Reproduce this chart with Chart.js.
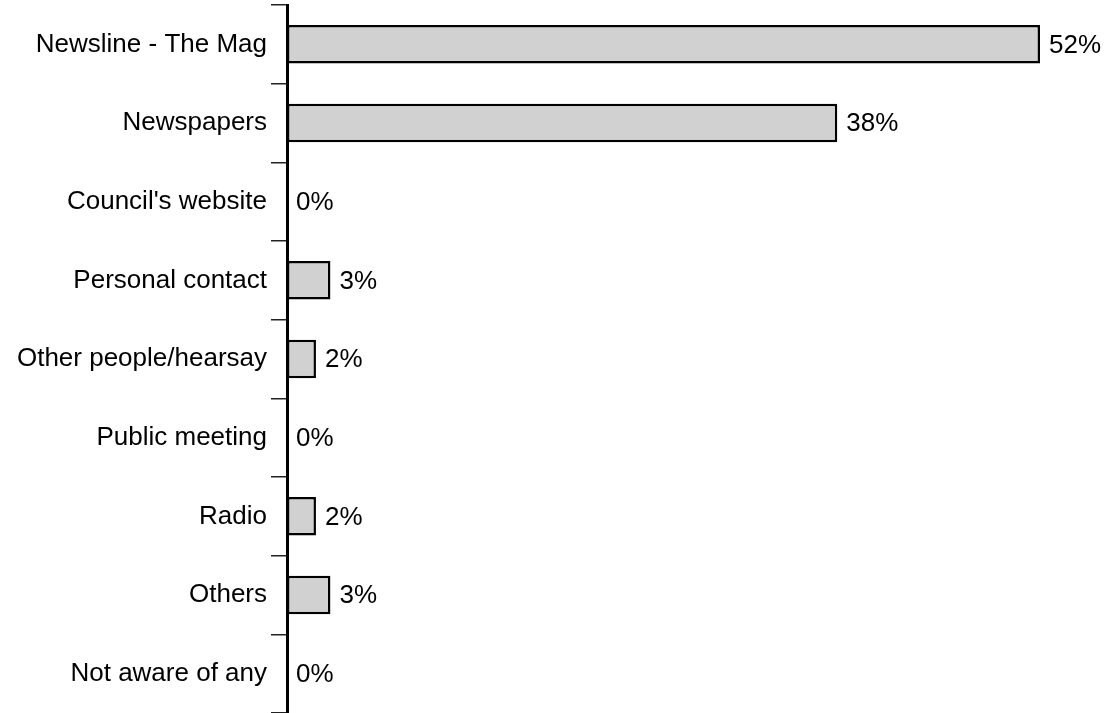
<!DOCTYPE html>
<html>
<head>
<meta charset="utf-8">
<script src="https://cdn.jsdelivr.net/npm/chart.js@4/dist/chart.umd.min.js"></script>
<style>
    html, body { margin: 0; padding: 0; background: #fff; }
    #wrap { width: 1112px; height: 713px; }
</style>
</head>
<body>
<div id="wrap"><canvas id="barChart"></canvas></div>
<script>
const categories = [
    "Newsline - The Mag",
    "Newspapers",
    "Council's website",
    "Personal contact",
    "Other people/hearsay",
    "Public meeting",
    "Radio",
    "Others",
    "Not aware of any"
];
const percents = [52, 38, 0, 3, 2, 0, 2, 3, 0];

// draws "NN%" just past the end of each bar
const valueLabels = {
    id: 'valueLabels',
    afterDatasetsDraw(chart) {
        const ctx = chart.ctx;
        const meta = chart.getDatasetMeta(0);
        ctx.save();
        ctx.font = '26px "Liberation Sans", Arial, sans-serif';
        ctx.fillStyle = '#000';
        ctx.textAlign = 'left';
        ctx.textBaseline = 'middle';
        meta.data.forEach((bar, i) => {
            ctx.fillText(percents[i] + '%', bar.x + 9, bar.y + 1);
        });
        ctx.restore();
    }
};

let ctx = document.getElementById('barChart').getContext('2d');
new Chart(ctx, {
    type: 'bar',
    data: {
        labels: categories,
        datasets: [{
            data: percents,
            backgroundColor: '#d1d1d1',
            borderColor: '#000',
            borderWidth: 2.5,
            borderSkipped: false,
            barPercentage: 0.49,
            categoryPercentage: 1
        }]
    },
    options: {
        indexAxis: 'y',
        responsive: true,
        maintainAspectRatio: false,
        animation: false,
        layout: { padding: { top: 5, right: 72, bottom: 0, left: 0 } },
        plugins: {
            legend: { display: false },
            tooltip: { enabled: false }
        },
        scales: {
            x: {
                display: false,
                min: 0,
                max: 52
            },
            y: {
                afterFit(scale) {
                    scale.width = 287;
                    scale.paddingTop = 0;
                    scale.paddingBottom = 0;
                },
                border: { display: true, color: '#000', width: 3 },
                grid: {
                    offset: true,
                    drawOnChartArea: false,
                    drawTicks: true,
                    tickLength: 16,
                    color: '#222',
                    lineWidth: 1.5
                },
                ticks: {
                    color: '#000',
                    padding: 4,
                    font: { family: '"Liberation Sans", Arial, sans-serif', size: 26 }
                }
            }
        }
    },
    plugins: [valueLabels]
});
</script>
</body>
</html>
